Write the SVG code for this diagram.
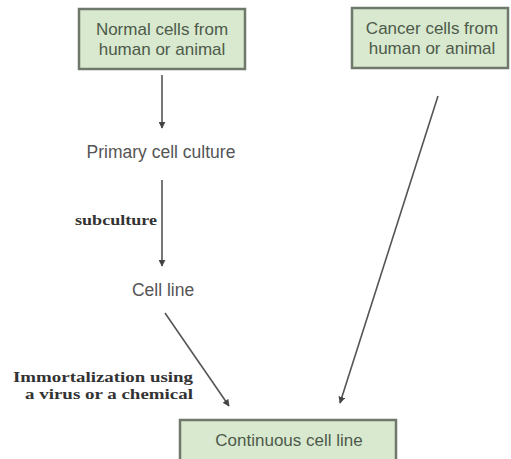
<svg xmlns="http://www.w3.org/2000/svg" width="511" height="459" viewBox="0 0 511 459">
<defs>
<style>
.box{fill:#d8e9cf;stroke:#6e786b;stroke-width:2.5}
.bt{font-family:"Liberation Sans",Arial,sans-serif;font-size:17px;fill:#4d5a4a;text-anchor:middle}
.pt{font-family:"Liberation Sans",Arial,sans-serif;font-size:17.5px;fill:#555;text-anchor:middle}
.lb{font-family:"Liberation Serif","Times New Roman",serif;font-size:15px;font-weight:bold;fill:#333}
.ar{stroke:#555;stroke-width:1.6;fill:none;marker-end:url(#ah)}
</style>
<marker id="ah" viewBox="0 0 10 10" refX="9" refY="5" markerWidth="7" markerHeight="7" markerUnits="userSpaceOnUse" orient="auto">
<path d="M0,0 L10,5 L0,10 z" fill="#444"/>
</marker>
</defs>
<rect width="511" height="459" fill="#fff"/>
<g id="connectors">
<line class="ar" x1="162" y1="75" x2="162" y2="128"/>
<line class="ar" x1="162" y1="180" x2="162" y2="266"/>
<line class="ar" x1="165" y1="313" x2="229" y2="406"/>
<line class="ar" x1="438" y1="96" x2="340" y2="403"/>
</g>
<g id="normal">
<rect class="box" x="79" y="9" width="166" height="60"/>
<text class="bt" x="162" y="35">Normal cells from</text>
<text class="bt" x="162" y="55">human or animal</text>
</g>
<g id="cancer">
<rect class="box" x="352" y="8" width="156" height="60"/>
<text class="bt" x="432" y="34">Cancer cells from</text>
<text class="bt" x="432" y="54">human or animal</text>
</g>
<g id="primary">
<text class="pt" x="161" y="158">Primary cell culture</text>
</g>
<g id="subculture">
<text class="lb" x="75" y="225" textLength="82" lengthAdjust="spacingAndGlyphs">subculture</text>
</g>
<g id="cellline">
<text class="pt" x="163" y="296">Cell line</text>
</g>
<g id="immortalization">
<text class="lb" x="13" y="382" textLength="180" lengthAdjust="spacingAndGlyphs">Immortalization using</text>
<text class="lb" x="25" y="399" textLength="168" lengthAdjust="spacingAndGlyphs">a virus or a chemical</text>
</g>
<g id="continuous">
<rect class="box" x="180" y="420" width="216" height="42"/>
<text class="bt" x="289" y="446">Continuous cell line</text>
</g>
</svg>
